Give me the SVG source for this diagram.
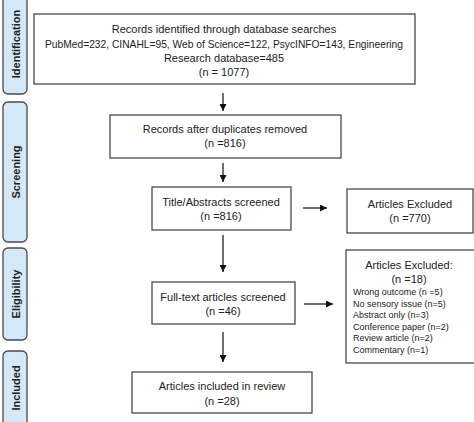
<svg xmlns="http://www.w3.org/2000/svg" width="474" height="422" viewBox="0 0 474 422">
<style>
.box{fill:#fff;stroke:#3a3a3a;stroke-width:1.2}
.side{fill:#d5e8f8;stroke:#4a4a4a;stroke-width:1.3}
.st{font-family:"Liberation Sans",Arial,sans-serif;font-weight:bold;font-size:11px;fill:#222;text-anchor:middle}
.t{font-family:"Liberation Sans",Arial,sans-serif;font-size:11px;fill:#222;text-anchor:middle}
.s{font-family:"Liberation Sans",Arial,sans-serif;font-size:9px;fill:#222}
.c{stroke:#111;stroke-width:1.2;fill:none;marker-end:url(#ah)}
</style>
<defs>
<marker id="ah" viewBox="0 0 10 10" refX="10" refY="5" markerWidth="7" markerHeight="7" markerUnits="userSpaceOnUse" orient="auto">
<path d="M0,0 L10,5 L0,10 z" fill="#111"/>
</marker>
</defs>
<rect width="474" height="422" fill="#fff"/>
<g id="phase-identification">
<rect class="side" x="3" y="-6" width="24" height="100" rx="5"/>
<text class="st" transform="translate(19.5,44) rotate(-90)">Identification</text>
</g>
<g id="phase-screening">
<rect class="side" x="3" y="102" width="24" height="140" rx="5"/>
<text class="st" transform="translate(19.5,172) rotate(-90)">Screening</text>
</g>
<g id="phase-eligibility">
<rect class="side" x="3" y="248" width="24" height="92" rx="5"/>
<text class="st" transform="translate(19.5,294) rotate(-90)">Eligibility</text>
</g>
<g id="phase-included">
<rect class="side" x="3" y="351" width="24" height="80" rx="5"/>
<text class="st" transform="translate(19.5,388) rotate(-90)">Included</text>
</g>
<g id="connectors">
<line class="c" x1="223" y1="93" x2="223" y2="111"/>
<line class="c" x1="223" y1="163" x2="223" y2="182"/>
<line class="c" x1="303" y1="208" x2="327" y2="208"/>
<line class="c" x1="223" y1="235" x2="223" y2="272"/>
<line class="c" x1="304" y1="304" x2="333" y2="304"/>
<line class="c" x1="223" y1="332" x2="223" y2="362"/>
</g>
<g id="records-identified">
<rect class="box" x="34" y="14" width="381" height="70"/>
<text class="t" x="224" y="33">Records identified through database searches</text>
<text class="t" x="224" y="48" textLength="358" lengthAdjust="spacingAndGlyphs">PubMed=232, CINAHL=95, Web of Science=122, PsycINFO=143, Engineering</text>
<text class="t" x="224" y="62">Research database=485</text>
<text class="t" x="224" y="76">(n = 1077)</text>
</g>
<g id="duplicates-removed">
<rect class="box" x="110" y="115" width="231" height="43"/>
<text class="t" x="225" y="133">Records after duplicates removed</text>
<text class="t" x="225" y="147">(n =816)</text>
</g>
<g id="title-abstracts">
<rect class="box" x="152" y="187" width="139" height="43"/>
<text class="t" x="221" y="206">Title/Abstracts screened</text>
<text class="t" x="221" y="220">(n =816)</text>
</g>
<g id="excluded-770">
<rect class="box" x="347" y="189" width="126" height="44"/>
<text class="t" x="410" y="208">Articles Excluded</text>
<text class="t" x="410" y="222">(n =770)</text>
</g>
<g id="full-text">
<rect class="box" x="152" y="282" width="143" height="42"/>
<text class="t" x="223" y="301">Full-text articles screened</text>
<text class="t" x="223" y="315">(n =46)</text>
</g>
<g id="excluded-18">
<rect class="box" x="346" y="250" width="130" height="113"/>
<text class="t" x="409" y="269">Articles Excluded:</text>
<text class="t" x="409" y="283">(n =18)</text>
<text class="s" x="353" y="295">Wrong outcome (n =5)</text>
<text class="s" x="353" y="306.5">No sensory issue (n=5)</text>
<text class="s" x="353" y="318">Abstract only (n=3)</text>
<text class="s" x="353" y="329.5">Conference paper (n=2)</text>
<text class="s" x="353" y="341">Review article (n=2)</text>
<text class="s" x="353" y="352.5">Commentary (n=1)</text>
</g>
<g id="included-review">
<rect class="box" x="132" y="372" width="180" height="41"/>
<text class="t" x="222" y="390">Articles included in review</text>
<text class="t" x="222" y="405">(n =28)</text>
</g>
</svg>
